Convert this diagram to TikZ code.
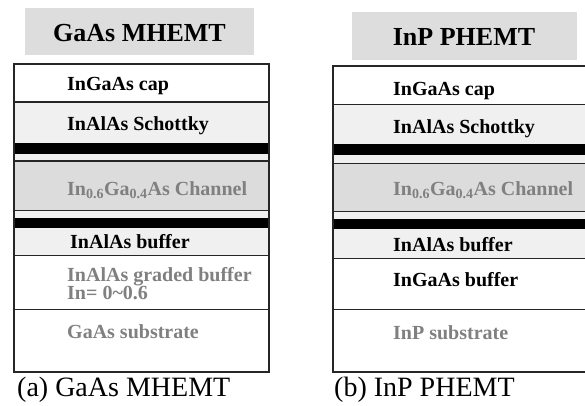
\documentclass[tikz,border=0pt]{standalone}
\usepackage{fontspec}
\setmainfont{Liberation Serif}
\definecolor{boxgray}{HTML}{DDDDDD}
\definecolor{lightfill}{HTML}{F0F0F0}
\definecolor{chanfill}{HTML}{DCDCDC}
\definecolor{txtgray}{HTML}{808080}
\tikzset{
  layer/.style={draw=black!85, line width=1.4pt},
  band/.style={fill=black, draw=none},
  titlebox/.style={fill=boxgray, draw=none},
  titletext/.style={anchor=base, inner sep=0pt, font=\fontsize{26}{26}\selectfont\bfseries},
  ltext/.style={anchor=base west, inner sep=0pt, font=\fontsize{20}{20}\selectfont\bfseries},
  gtext/.style={ltext, text=txtgray},
  caption/.style={anchor=base west, inner sep=0pt, font=\fontsize{28}{28}\selectfont},
}
\newcommand{\chan}{In\textsubscript{0.6}Ga\textsubscript{0.4}As Channel}
\begin{document}
\begin{tikzpicture}[x=1pt, y=-1pt]
\useasboundingbox (0,0) rectangle (585,405);

% ---------- (a) GaAs MHEMT ----------
\fill[titlebox] (25,8) rectangle (254,55);
\node[titletext] (ta) at (139.5,41.5) {GaAs MHEMT};

\fill[white]     (14,64) rectangle (269,102);
\fill[lightfill] (14,102) rectangle (269,161);
\fill[chanfill]  (14,161) rectangle (269,210.5);
\fill[lightfill] (14,210.5) rectangle (269,255.5);
\fill[white]     (14,255.5) rectangle (269,372);
\fill[band] (14,142.7) rectangle (269,154);
\fill[band] (14,218.3) rectangle (269,228.3);
\draw[layer] (14,102) -- (269,102);
\draw[layer] (14,161) -- (269,161);
\draw[layer] (14,210.5) -- (269,210.5);
\draw[layer] (14,255.5) -- (269,255.5);
\draw[layer] (14,309.3) -- (269,309.3);
\draw[layer] (14,64) rectangle (269,372);

\node[ltext] (a1) at (67,90.7) {InGaAs cap};
\node[ltext] (a2) at (67,130) {InAlAs Schottky};
\node[gtext] (a3) at (67,195) {\chan};
\node[ltext] (a4) at (70,248) {InAlAs buffer};
\node[gtext, align=left, anchor=north west] (a5) at (67,267)
  {InAlAs graded buffer\\[-1.5pt]In= 0\char`~0.6};
\node[gtext] (a6) at (67,338) {GaAs substrate};
\node[caption] (ca) at (17,396) {(a) GaAs MHEMT};

% ---------- (b) InP PHEMT ----------
\fill[titlebox] (352,12) rectangle (577,60);
\node[titletext] (tb) at (464,45) {InP PHEMT};

\fill[white]     (333,66) rectangle (588,104.3);
\fill[lightfill] (333,104.3) rectangle (588,163.3);
\fill[chanfill]  (333,163.3) rectangle (588,211.7);
\fill[lightfill] (333,211.7) rectangle (588,258.3);
\fill[white]     (333,258.3) rectangle (588,372);
\fill[band] (333,144.3) rectangle (588,154.5);
\fill[band] (333,219.3) rectangle (588,229.3);
\draw[layer] (333,104.3) -- (588,104.3);
\draw[layer] (333,163.3) -- (588,163.3);
\draw[layer] (333,211.7) -- (588,211.7);
\draw[layer] (333,258.3) -- (588,258.3);
\draw[layer] (333,309.3) -- (588,309.3);
\draw[layer] (333,66) rectangle (588,372);

\node[ltext] (b1) at (393,95) {InGaAs cap};
\node[ltext] (b2) at (393,133) {InAlAs Schottky};
\node[gtext] (b3) at (393,195) {\chan};
\node[ltext] (b4) at (393,251.5) {InAlAs buffer};
\node[ltext] (b5) at (393,286) {InGaAs buffer};
\node[gtext] (b6) at (393,339) {InP substrate};
\node[caption] (cb) at (334,396) {(b) InP PHEMT};
\end{tikzpicture}
\end{document}
